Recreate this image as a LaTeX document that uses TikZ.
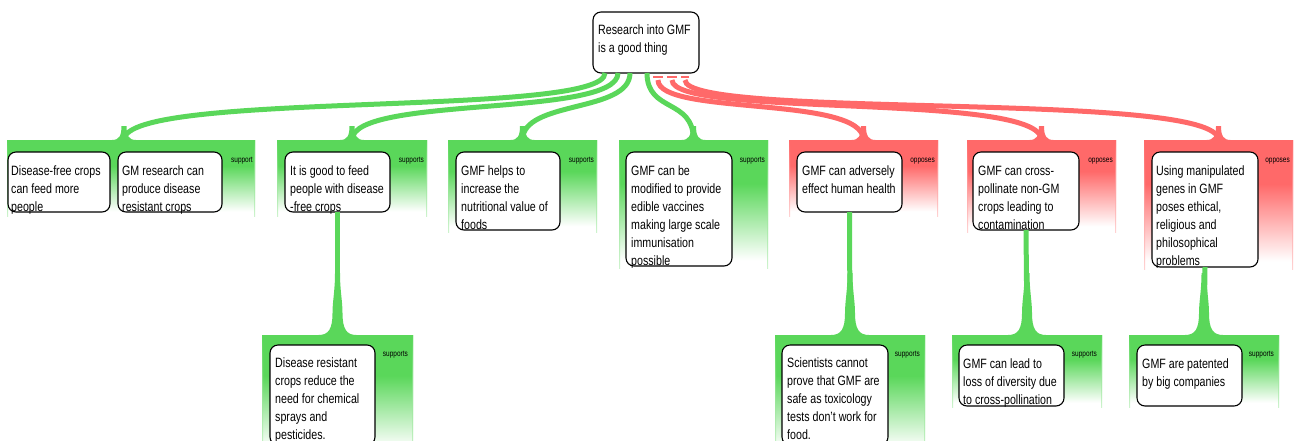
\documentclass[tikz,border=0pt]{standalone}
\usepackage{fontspec}
\setmainfont{Liberation Sans}[FakeStretch=0.79]
\usetikzlibrary{calc}

\definecolor{gc}{RGB}{90,215,90}
\definecolor{rc}{RGB}{255,105,105}
% panel fills: solid colour at the top fading to white at the bottom
\pgfdeclareverticalshading{gfade}{100bp}{color(0bp)=(white); color(28bp)=(white); color(58bp)=(gc); color(100bp)=(gc)}
\pgfdeclareverticalshading{rfade}{100bp}{color(0bp)=(white); color(28bp)=(white); color(58bp)=(rc); color(100bp)=(rc)}

\tikzset{
  panel/.style={anchor=north west, inner sep=0pt, outer sep=0pt, draw=none, shade},
  edges/.style={path picture={
      \shade[top color=#1, bottom color=#1!30]
        (path picture bounding box.north west) rectangle
        ([xshift=1pt]path picture bounding box.south west);
      \shade[top color=#1, bottom color=#1!30]
        ([xshift=-1pt]path picture bounding box.north east) rectangle
        (path picture bounding box.south east);}},
  gpanel/.style={panel, shading=gfade, edges=gc},
  rpanel/.style={panel, shading=rfade, edges=rc},
  card/.style={anchor=north west, draw=black, line width=1.1pt, fill=white,
    rounded corners=8pt, inner sep=0pt, outer sep=0pt},
  cardtext/.style={anchor=north west, inner sep=0pt, align=left,
    font=\fontsize{13.5}{18}\selectfont},
  tag/.style={anchor=base east, inner sep=0pt, font=\fontsize{8.2}{9}\selectfont},
  gline/.style={draw=gc, line width=5pt},
  rline/.style={draw=rc, line width=5pt},
  rcap/.style={draw=rc, line width=1.5pt},
  flare/.pic={\fill (-12,0) .. controls (-5,0) and (-2.5,-4) .. (-2.5,-14)
      -- (2.5,-14) .. controls (2.5,-4) and (5,0) .. (12,0) -- cycle;},
  bigflare/.pic={\fill (-19,0) .. controls (-9,0) and (-5,-6) .. (-5,-22)
      .. controls (-5,-34) and (-2.5,-44) .. (-2.5,-62)
      -- (2.5,-62) .. controls (2.5,-44) and (5,-34) .. (5,-22)
      .. controls (5,-6) and (9,0) .. (19,0) -- cycle;}
}

\begin{document}
\begin{tikzpicture}[x=1pt, y=-1pt]
\clip (0,0) rectangle (1295,440);

% ---------- reason panels ----------
\node[gpanel, minimum width=248pt, minimum height=76pt] (p1) at (7,140) {};
\node[gpanel, minimum width=150pt, minimum height=76pt] (p2) at (277,140) {};
\node[gpanel, minimum width=149pt, minimum height=92pt] (p3) at (448,140) {};
\node[gpanel, minimum width=149pt, minimum height=128pt] (p4) at (619,140) {};
\node[rpanel, minimum width=149pt, minimum height=76pt] (p5) at (789,140) {};
\node[rpanel, minimum width=149pt, minimum height=92pt] (p6) at (967,140) {};
\node[rpanel, minimum width=149pt, minimum height=129pt] (p7) at (1144,140) {};

\node[gpanel, minimum width=151pt, minimum height=120pt] (q2) at (262,335) {};
\node[gpanel, minimum width=150pt, minimum height=120pt] (q5) at (775,335) {};
\node[gpanel, minimum width=150pt, minimum height=72pt] (q6) at (952,335) {};
\node[gpanel, minimum width=150pt, minimum height=72pt] (q7) at (1129,335) {};

% ---------- main claim ----------
\node[card, minimum width=106pt, minimum height=61pt] (root) at (593,12) {};
\node[cardtext] (troot) at ($(root.north west)+(5,10)$)
  {\rule{0pt}{12pt}Research into GMF\\is a good thing};

% ---------- connectors from the claim ----------
\coordinate (s1) at ($(root.south west)+(12,0)$);
\coordinate (s2) at ($(root.south west)+(25,0)$);
\coordinate (s3) at ($(root.south west)+(37,0)$);
\coordinate (s4) at ($(root.south west)+(54,0)$);
\coordinate (s5) at ($(root.south west)+(65,7)$);
\coordinate (s6) at ($(root.south west)+(79,7)$);
\coordinate (s7) at ($(root.south west)+(92,7)$);

\coordinate (e1) at ($(p1.north)+(-7,0)$);
\coordinate (e2) at (p2.north);
\coordinate (e3) at (p3.north);
\coordinate (e4) at (p4.north);
\coordinate (e5) at (p5.north);
\coordinate (e6) at (p6.north);
\coordinate (e7) at (p7.north);

\draw[gline] (s1) .. controls ($(s1)+(0,45)$) and ($(e1)+(0,-50)$) .. (e1);
\draw[gline] (s2) .. controls ($(s2)+(0,45)$) and ($(e2)+(0,-45)$) .. (e2);
\draw[gline] (s3) .. controls ($(s3)+(0,40)$) and ($(e3)+(0,-40)$) .. (e3);
\draw[gline] (s4) .. controls ($(s4)+(0,40)$) and ($(e4)+(0,-42)$) .. (e4);
\draw[rline] (s5) .. controls ($(s5)+(0,36)$) and ($(e5)+(0,-45)$) .. (e5);
\draw[rline] (s6) .. controls ($(s6)+(0,38)$) and ($(e6)+(0,-48)$) .. (e6);
\draw[rline] (s7) .. controls ($(s7)+(0,40)$) and ($(e7)+(0,-50)$) .. (e7);

\draw[rcap] ($(s5)+(-5,-3)$) -- ($(s5)+(5,-3)$);
\draw[rcap] ($(s6)+(-5,-3)$) -- ($(s6)+(5,-3)$);
\draw[rcap] ($(s7)+(-4,-3)$) -- ($(s7)+(4,-3)$);

\foreach \e in {e1,e2,e3,e4} \pic[color=gc] at (\e) {flare};
\foreach \e in {e5,e6,e7} \pic[color=rc] at (\e) {flare};

% ---------- reason cards ----------
\node[card, minimum width=102pt, minimum height=60pt] (b1a) at (8,152) {};
\node[card, minimum width=104pt, minimum height=60pt] (b1b) at (118,152) {};
\node[card, minimum width=105pt, minimum height=60pt] (b2) at (285,152) {};
\node[card, minimum width=104pt, minimum height=78pt] (b3) at (456,152) {};
\node[card, minimum width=106pt, minimum height=114pt] (b4) at (626,152) {};
\node[card, minimum width=105pt, minimum height=60pt] (b5) at (797,152) {};
\node[card, minimum width=106pt, minimum height=78pt] (b6) at (973,152) {};
\node[card, minimum width=106pt, minimum height=115pt] (b7) at (1152,152) {};

% ---------- stems to the second row ----------
\draw[gline] (b2.south) -- (q2.north);
\draw[gline] (b5.south) -- (q5.north);
\draw[gline] (b6.south) -- (q6.north);
\draw[gline] (b7.south) -- (q7.north);
\foreach \q in {q2,q5,q6,q7} \pic[color=gc] at (\q.north) {bigflare};

\node[card, minimum width=105pt, minimum height=100pt] (c2) at (270,345) {};
\node[card, minimum width=106pt, minimum height=100pt] (c5) at (782,345) {};
\node[card, minimum width=105pt, minimum height=61pt] (c6) at (959,345) {};
\node[card, minimum width=105pt, minimum height=61pt] (c7) at (1137,345) {};

% ---------- card texts ----------
\node[cardtext] (t1a) at ($(b1a.north west)+(3,11)$)
  {\rule{0pt}{12pt}Disease-free crops\\can feed more\\people};
\node[cardtext] (t1b) at ($(b1b.north west)+(4,11)$)
  {\rule{0pt}{12pt}GM research can\\produce disease\\resistant crops};
\node[cardtext] (t2) at ($(b2.north west)+(5,11)$)
  {\rule{0pt}{12pt}It is good to feed\\people with disease\\-free crops};
\node[cardtext] (t3) at ($(b3.north west)+(5,11)$)
  {\rule{0pt}{12pt}GMF helps to\\increase the\\nutritional value of\\foods};
\node[cardtext] (t4) at ($(b4.north west)+(5,11)$)
  {\rule{0pt}{12pt}GMF can be\\modified to provide\\edible vaccines\\making large scale\\immunisation\\possible};
\node[cardtext] (t5) at ($(b5.north west)+(5,11)$)
  {\rule{0pt}{12pt}GMF can adversely\\effect human health};
\node[cardtext] (t6) at ($(b6.north west)+(5,11)$)
  {\rule{0pt}{12pt}GMF can cross-\\pollinate non-GM\\crops leading to\\contamination};
\node[cardtext] (t7) at ($(b7.north west)+(4,11)$)
  {\rule{0pt}{12pt}Using manipulated\\genes in GMF\\poses ethical,\\religious and\\philosophical\\problems};
\node[cardtext] (u2) at ($(c2.north west)+(5,10)$)
  {\rule{0pt}{12pt}Disease resistant\\crops reduce the\\need for chemical\\sprays and\\pesticides.};
\node[cardtext] (u5) at ($(c5.north west)+(5,10)$)
  {\rule{0pt}{12pt}Scientists cannot\\prove that GMF are\\safe as toxicology\\tests don't work for\\food.};
\node[cardtext] (u6) at ($(c6.north west)+(4,11)$)
  {\rule{0pt}{12pt}GMF can lead to\\loss of diversity due\\to cross-pollination};
\node[cardtext] (u7) at ($(c7.north west)+(5,11)$)
  {\rule{0pt}{12pt}GMF are patented\\by big companies};

% ---------- panel labels ----------
\node[tag] (l1) at ($(p1.north east)+(-2,22.5)$) {support};
\node[tag] (l2) at ($(p2.north east)+(-3,22.5)$) {supports};
\node[tag] (l3) at ($(p3.north east)+(-3,22.5)$) {supports};
\node[tag] (l4) at ($(p4.north east)+(-3,22.5)$) {supports};
\node[tag] (l5) at ($(p5.north east)+(-3,22.5)$) {opposes};
\node[tag] (l6) at ($(p6.north east)+(-3,22.5)$) {opposes};
\node[tag] (l7) at ($(p7.north east)+(-3,22.5)$) {opposes};
\node[tag] (m2) at ($(q2.north east)+(-5,21.5)$) {supports};
\node[tag] (m5) at ($(q5.north east)+(-5,21.5)$) {supports};
\node[tag] (m6) at ($(q6.north east)+(-5,21.5)$) {supports};
\node[tag] (m7) at ($(q7.north east)+(-5,21.5)$) {supports};
\end{tikzpicture}
\end{document}
